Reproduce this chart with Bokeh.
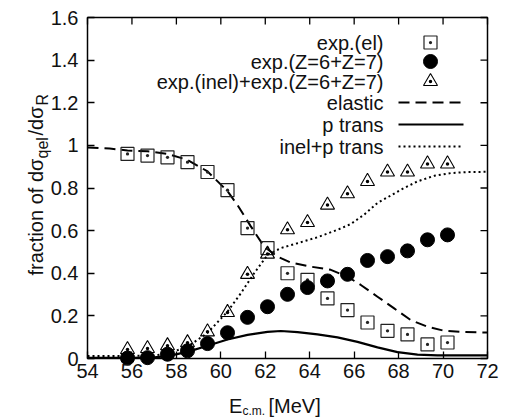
from bokeh.plotting import figure
from bokeh.models import Range1d, FixedTicker, Label
from bokeh.core.properties import value
from bokeh.embed import file_html
from bokeh.resources import INLINE

FONT = "Liberation Sans"

# ---- data ----
e_cm = [55.8, 56.7, 57.6, 58.5, 59.4, 60.3, 61.2, 62.1, 63.0, 63.9,
        64.8, 65.7, 66.6, 67.5, 68.4, 69.3, 70.2]
exp_el = [0.960, 0.952, 0.944, 0.921, 0.875, 0.790, 0.612, 0.518, 0.400, 0.369,
          0.282, 0.227, 0.169, 0.130, 0.113, 0.066, 0.075]
exp_z67 = [0.002, 0.004, 0.020, 0.036, 0.070, 0.121, 0.193, 0.243, 0.301, 0.333,
           0.364, 0.395, 0.460, 0.478, 0.505, 0.557, 0.580]
exp_inel_z67 = [0.042, 0.047, 0.060, 0.074, 0.125, 0.216, 0.395, 0.490, 0.604, 0.638,
                0.720, 0.773, 0.831, 0.875, 0.875, 0.913, 0.913]

elastic_x = [54.0, 55.0, 55.8, 56.7, 57.6, 58.5, 59.4, 60.3, 60.75, 61.35, 61.95,
             62.55, 63.15, 64.05, 64.95, 65.7, 66.3, 67.05, 67.8, 68.55, 69.3,
             70.05, 70.95, 72.0]
elastic_y = [0.990, 0.985, 0.976, 0.972, 0.960, 0.932, 0.878, 0.785, 0.720, 0.620, 0.525,
             0.478, 0.450, 0.431, 0.416, 0.384, 0.345, 0.290, 0.235, 0.180, 0.149,
             0.130, 0.124, 0.122]

ptrans_x = [54.0, 56.0, 57.0, 57.6, 58.5, 59.4, 60.3, 61.2, 62.1, 62.7, 63.45, 64.35,
            65.25, 66.15, 67.05, 67.95, 68.85, 69.75, 72.0]
ptrans_y = [0.003, 0.003, 0.005, 0.011, 0.031, 0.060, 0.089, 0.111, 0.125, 0.129, 0.124,
            0.113, 0.099, 0.078, 0.052, 0.030, 0.018, 0.015, 0.015]

inelp_x = [54.0, 56.0, 57.0, 57.6, 58.5, 59.4, 60.3, 60.9, 61.5, 62.1, 62.7, 63.45,
           64.35, 65.25, 65.85, 66.45, 67.05, 67.65, 68.1, 68.85, 69.6, 70.35, 71.1, 72.0]
inelp_y = [0.012, 0.012, 0.014, 0.023, 0.055, 0.120, 0.220, 0.306, 0.400, 0.486, 0.518,
           0.541, 0.569, 0.604, 0.631, 0.675, 0.730, 0.765, 0.792, 0.831, 0.857, 0.870,
           0.875, 0.876]

x_ticks = [54, 56, 58, 60, 62, 64, 66, 68, 70, 72]
y_ticks = [0, 0.2, 0.4, 0.6, 0.8, 1, 1.2, 1.4, 1.6]
y_tick_labels = ["0", "0.2", "0.4", "0.6", "0.8", "1", "1.2", "1.4", "1.6"]

legend_labels = ["exp.(el)", "exp.(Z=6+Z=7)", "exp.(inel)+exp.(Z=6+Z=7)",
                 "elastic", "p trans", "inel+p trans"]

# ---- layout: the frame covers the whole canvas; the data box sits inside it ----
W, H = 508, 417
BOX_L, BOX_R, BOX_T, BOX_B = 87, 487, 17, 358      # data box, pixels from top-left
X0, X1 = x_ticks[0], x_ticks[-1]
Y0, Y1 = y_ticks[0], y_ticks[-1]
kx = (BOX_R - BOX_L) / (X1 - X0)
ky = (BOX_B - BOX_T) / (Y1 - Y0)
x_range = Range1d(X0 - BOX_L / kx, X1 + (W - BOX_R) / kx)
y_range = Range1d(Y0 - (H - BOX_B) / ky, Y1 + BOX_T / ky)
TICK = 7

p = figure(width=W, height=H, x_range=x_range, y_range=y_range,
           output_backend="svg", toolbar_location=None,
           min_border_left=0, min_border_right=0, min_border_top=0, min_border_bottom=0)
p.xgrid.visible = False
p.ygrid.visible = False
p.outline_line_color = None
p.background_fill_color = "white"
p.border_fill_color = "white"
p.extra_x_ranges = {"px": Range1d(0, W)}
p.extra_y_ranges = {"px": Range1d(0, H)}


def style_axis(ax, ticks):
    ax.ticker = FixedTicker(ticks=ticks)
    ax.major_tick_in = TICK
    ax.major_tick_out = 0
    ax.minor_tick_in = 0
    ax.minor_tick_out = 0
    ax.major_tick_line_color = "black"
    ax.major_tick_line_width = 1.3
    ax.axis_line_color = None
    ax.major_label_text_font = FONT
    ax.major_label_text_color = "#111111"
    ax.major_label_text_font_size = "20px"


xa = p.xaxis[0]
style_axis(xa, x_ticks)
xa.fixed_location = Y0
xa.major_label_standoff = 5
ya = p.yaxis[0]
style_axis(ya, y_ticks)
ya.fixed_location = X0
ya.major_label_standoff = 9
ya.major_label_overrides = {t: s for t, s in zip(y_ticks, y_tick_labels)}

# data box border
p.quad(left=[X0], right=[X1], bottom=[Y0], top=[Y1], fill_color=None,
       line_color="black", line_width=1.5)

# mirrored inward ticks on the top and right edges (tick value in data, length in pixels)
p.segment(x0=x_ticks, x1=x_ticks, y0=[H - BOX_T] * len(x_ticks),
          y1=[H - BOX_T - TICK] * len(x_ticks),
          y_range_name="px", line_color="black", line_width=1.3)
p.segment(x0=[BOX_R] * len(y_ticks), x1=[BOX_R - TICK] * len(y_ticks), y0=y_ticks, y1=y_ticks,
          x_range_name="px", line_color="black", line_width=1.3)

# ---- curves ----
p.line(elastic_x, elastic_y, line_color="black", line_width=2, line_dash="11 6")
p.line(ptrans_x, ptrans_y, line_color="black", line_width=2.2)
p.line(inelp_x, inelp_y, line_color="black", line_width=2, line_dash="2 3")

# ---- points ----
p.scatter(e_cm, exp_el, marker="square_dot", size=13, fill_color=None,
          line_color="#222222", line_width=1.2)
p.scatter(e_cm, exp_z67, marker="circle", size=14, fill_color="black", line_color="black")
p.scatter(e_cm, exp_inel_z67, marker="triangle_dot", size=14, fill_color=None,
          line_color="black", line_width=1.1)

# ---- legend (pixel space, gnuplot style: text right, sample left) ----
row_top = [42, 61, 81, 102, 124, 146]            # row centres, pixels from top
row_y = [H - r for r in row_top]
text_x = [383] * len(legend_labels)
p.text(x=text_x, y=row_y, text=legend_labels, x_range_name="px", y_range_name="px",
       text_align="right", text_baseline="middle", text_font=value(FONT),
       text_font_size="20px", text_color="#111111")
mk_x = 430
p.scatter([mk_x], [row_y[0]], marker="square_dot", size=13, fill_color=None,
          line_color="#222222", line_width=1.2, x_range_name="px", y_range_name="px")
p.scatter([mk_x], [row_y[1]], marker="circle", size=14, fill_color="black",
          line_color="black", x_range_name="px", y_range_name="px")
p.scatter([mk_x], [row_y[2]], marker="triangle_dot", size=14, fill_color=None,
          line_color="black", line_width=1.1, x_range_name="px", y_range_name="px")
seg_x = [398, 463]
p.line(seg_x, [row_y[3]] * 2, line_color="black", line_width=2, line_dash="11 6",
       x_range_name="px", y_range_name="px")
p.line(seg_x, [row_y[4]] * 2, line_color="black", line_width=2.2,
       x_range_name="px", y_range_name="px")
p.line(seg_x, [row_y[5]] * 2, line_color="black", line_width=2, line_dash="2 3",
       x_range_name="px", y_range_name="px")


# ---- axis titles with subscripts ----
def lab(x, y, text, size, angle=0):
    p.add_layout(Label(x=x, y=y, x_units="screen", y_units="screen", text=text,
                       text_font=FONT, text_font_size=size, text_color="#111111",
                       text_align="left", text_baseline="alphabetic",
                       angle=angle, angle_units="deg"))


# E_{c.m.} [MeV]
lab(228.5, H - 405.5, "E", "20px")
lab(242, H - 410.5, "c.m.", "12px")
lab(268, H - 405.5, "[MeV]", "20px")

# fraction of dσ_{qel}/dσ_{R}, read bottom to top
lab(35.5, H - 275, "fraction of d\u03c3", "20px", 90)
lab(42, H - 158, "qel", "16px", 90)
lab(35.5, H - 135, "/d\u03c3", "20px", 90)
lab(42, H - 105, "R", "16px", 90)

open("out.html", "w").write(file_html(p, INLINE))
